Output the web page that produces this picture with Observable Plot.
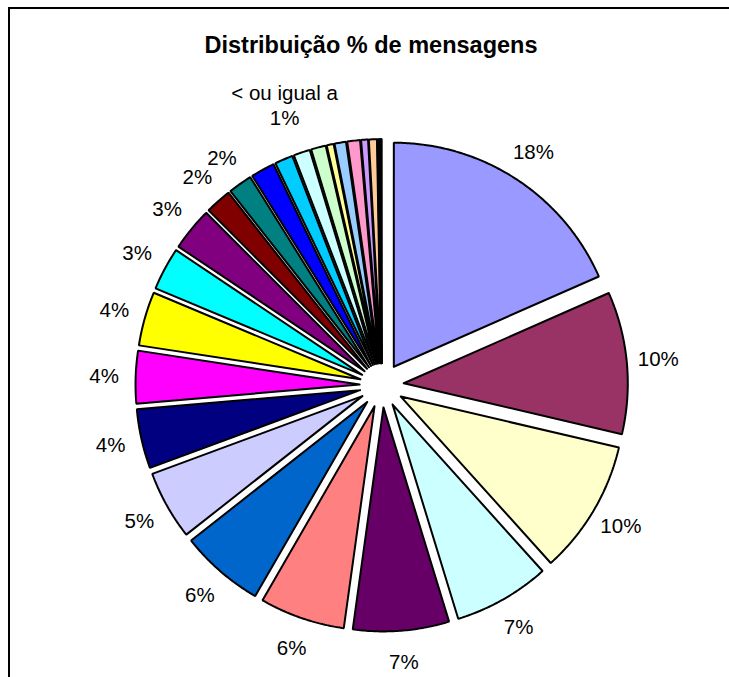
<!DOCTYPE html>
<html>
<head>
<meta charset="utf-8">
<script src="https://cdn.jsdelivr.net/npm/d3@7"></script>
<script src="https://cdn.jsdelivr.net/npm/@observablehq/plot@0.6"></script>
<style>
  html, body { margin: 0; padding: 0; background: #fff; }
  #wrap { position: relative; width: 729px; height: 677px; overflow: hidden; background: #fff; }
  #frame { position: absolute; left: 8px; top: 7px; width: 900px; height: 900px;
           border-top: 2px solid #000; border-left: 2px solid #000; box-sizing: border-box; }
  #title { position: absolute; left: 371px; top: 34px; transform: translateX(-50%);
           white-space: nowrap; font: bold 23.5px "Liberation Sans", Arial, sans-serif;
           line-height: 23.5px; color: #000; }
  #chart { position: absolute; left: 0; top: 0; }
</style>
</head>
<body>
<div id="wrap">
  <div id="frame"></div>
  <div id="chart"></div>
  <div id="title">Distribuição % de mensagens</div>
</div>
<script>
// Share of messages per category (%), clockwise from 12 o'clock
const values = [18.4, 10.25, 9.68, 6.94, 6.92, 6.14, 6.06, 4.97, 4.28, 3.78, 3.89, 3.08, 3.11, 1.89, 1.72,
                1.72, 1.31, 1.19, 1.06, 0.5, 0.83, 0.92, 0.5, 0.58, 0.1, 0.045, 0.045, 0.045, 0.045];
const colors = ["#9999FF", "#993366", "#FFFFCC", "#CCFFFF", "#660066", "#FF8080", "#0066CC", "#CCCCFF",
                "#000080", "#FF00FF", "#FFFF00", "#00FFFF", "#800080", "#800000", "#008080",
                "#0000FF", "#00CCFF", "#CCFFFF", "#CCFFCC", "#FFFF99", "#99CCFF", "#FF99CC", "#CC99FF",
                "#FFCC99", "#3366FF", "#33CCCC", "#99CC00", "#FFCC00", "#FF9900"];
// Individual slice labels (the remaining small slices share the group label)
const sliceLabels = ["18%", "10%", "10%", "7%", "7%", "6%", "6%", "5%", "4%", "4%", "4%", "3%", "3%", "2%", "2%"];
const groupLabel = "< ou igual a\n1%";

const explode = 0.099;   // offset of each slice, in radius units
const labelR = 1.24;     // label distance, in radius units
const groupR = 1.33;

const total = d3.sum(values);
let acc = 0;
const slices = values.map((v, i) => {
  const a0 = acc / total * 2 * Math.PI;
  acc += v;
  const a1 = acc / total * 2 * Math.PI;
  return {i, v, a0, a1, mid: (a0 + a1) / 2, color: colors[i]};
});

const points = [];
for (const s of slices) {
  const ox = explode * Math.sin(s.mid), oy = explode * Math.cos(s.mid);
  points.push({i: s.i, color: s.color, x: ox, y: oy});
  const n = Math.max(2, Math.ceil((s.a1 - s.a0) / (Math.PI / 360)));
  for (let k = 0; k <= n; k++) {
    const a = s.a0 + (s.a1 - s.a0) * k / n;
    points.push({i: s.i, color: s.color, x: ox + Math.sin(a), y: oy + Math.cos(a)});
  }
  points.push({i: s.i, color: s.color, x: ox, y: oy});
}

const labels = sliceLabels.map((t, i) => {
  const s = slices[i];
  return {text: t, x: labelR * Math.sin(s.mid), y: labelR * Math.cos(s.mid)};
});
const grp = slices.slice(sliceLabels.length);
const gMid = (grp[0].a0 + grp[grp.length - 1].a1) / 2;
const groupData = [{text: groupLabel, x: groupR * Math.sin(gMid), y: groupR * Math.cos(gMid)}];

// pixel frame: center at (381.2, 384.8), radius 224 px
const W = 729, H = 677, cx = 381.2, cy = 384.8, R = 224;
const chart = Plot.plot({
  width: W, height: H,
  margin: 0,
  x: {domain: [-cx / R, (W - cx) / R], axis: null},
  y: {domain: [-(H - cy) / R, cy / R], axis: null},
  color: {type: "identity"},
  style: {background: "transparent", overflow: "visible"},
  marks: [
    Plot.line(points, {x: "x", y: "y", z: "i", fill: "color", stroke: "#000", strokeWidth: 2,
                       strokeLinejoin: "miter", curve: "linear"}),
    Plot.text(labels, {x: "x", y: "y", text: "text", fontSize: 20.5, fill: "#000",
                       fontFamily: "'Liberation Sans', Arial, sans-serif"}),
    Plot.text(groupData, {x: "x", y: "y", text: "text", fontSize: 20.5, fill: "#000", lineHeight: 1.22,
                          dx: -15, dy: 6, fontFamily: "'Liberation Sans', Arial, sans-serif"})
  ]
});
document.getElementById("chart").appendChild(chart);
</script>
</body>
</html>
